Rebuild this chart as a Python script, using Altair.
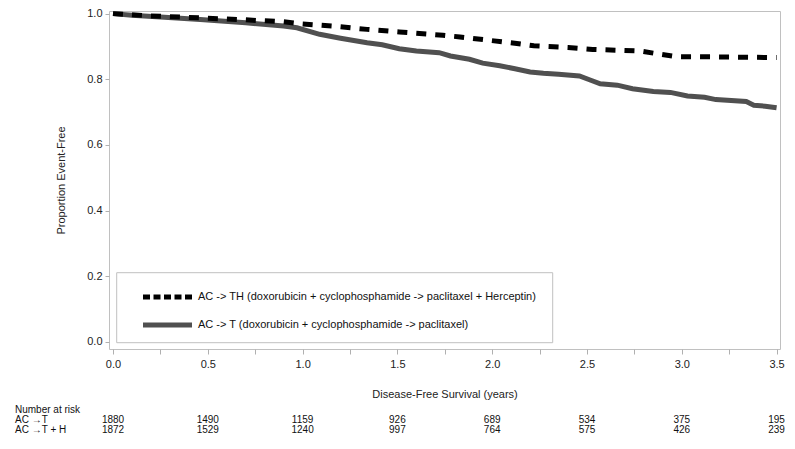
import altair as alt
import pandas as pd

# Kaplan-Meier readings: AC -> T (solid)
t_act = [0.0, 0.1, 0.25, 0.46, 0.7, 0.9, 0.97, 1.09, 1.2, 1.34, 1.42, 1.51, 1.6, 1.72, 1.78,
         1.88, 1.95, 2.04, 2.12, 2.2, 2.27, 2.35, 2.46, 2.52, 2.57, 2.66, 2.74, 2.85, 2.94,
         3.03, 3.12, 3.18, 3.34, 3.38, 3.44, 3.5]
s_act = [1.0, 0.995, 0.99, 0.982, 0.972, 0.962, 0.957, 0.937, 0.925, 0.911, 0.905, 0.893,
         0.886, 0.881, 0.871, 0.861, 0.849, 0.841, 0.832, 0.822, 0.818, 0.815, 0.810, 0.797,
         0.786, 0.782, 0.771, 0.763, 0.760, 0.749, 0.745, 0.738, 0.732, 0.721, 0.718, 0.713]

# AC -> TH (dashed)
t_acth = [0.0, 0.2, 0.46, 0.7, 0.9, 0.99, 1.16, 1.34, 1.51, 1.74, 1.83, 2.01, 2.13, 2.22,
          2.4, 2.53, 2.78, 2.89, 2.97, 3.2, 3.5]
s_acth = [1.0, 0.993, 0.987, 0.981, 0.975, 0.969, 0.962, 0.952, 0.944, 0.934, 0.929, 0.917,
          0.909, 0.902, 0.897, 0.891, 0.886, 0.876, 0.869, 0.868, 0.866]

risk_times = [0.0, 0.5, 1.0, 1.5, 2.0, 2.5, 3.0, 3.5]
risk_act = [1880, 1490, 1159, 926, 689, 534, 375, 195]
risk_acth = [1872, 1529, 1240, 997, 764, 575, 426, 239]

x_ticks = [0.0, 0.25, 0.5, 0.75, 1.0, 1.25, 1.5, 1.75, 2.0, 2.25, 2.5, 2.75, 3.0, 3.25, 3.5]
y_ticks = [0.0, 0.2, 0.4, 0.6, 0.8, 1.0]

legend_labels = [
    "AC -> TH (doxorubicin + cyclophosphamide -> paclitaxel + Herceptin)",
    "AC -> T (doxorubicin + cyclophosphamide -> paclitaxel)",
]
risk_rows = ["Number at risk", "AC \u2192T", "AC \u2192T + H"]

FONT = "Liberation Sans"
W, H = 671, 338
xs = alt.Scale(domain=[-0.0211, 3.518], nice=False, zero=False)
ys = alt.Scale(domain=[-0.022, 1.008], nice=False, zero=False)

x_axis = alt.Axis(
    title="Disease-Free Survival (years)", values=x_ticks,
    labelExpr="datum.value % 0.5 == 0 ? format(datum.value, '.1f') : ''",
    domain=False, grid=False, tickColor="#b0b0b0", tickSize=5,
    labelPadding=4, titlePadding=19)
y_axis = alt.Axis(
    title="Proportion Event-Free", values=y_ticks, format=".1f",
    domain=False, grid=False, tickColor="#b0b0b0", tickSize=4,
    labelPadding=3, titlePadding=20)

X = alt.X("t:Q", scale=xs, axis=x_axis)
Y = alt.Y("s:Q", scale=ys, axis=y_axis)

df_act = pd.DataFrame({"t": t_act, "s": s_act})
df_acth = pd.DataFrame({"t": t_acth, "s": s_acth})

solid = alt.Chart(df_act).mark_line(color="#505050", strokeWidth=5, interpolate="linear").encode(
    x=X, y=Y)
dashed = alt.Chart(df_acth).mark_line(color="#000000", strokeWidth=5, strokeDash=[10, 9],
                                      interpolate="linear").encode(x=X, y=Y)

df_leg = pd.DataFrame({"label": legend_labels})
legend_box = alt.Chart(df_leg.head(1)).mark_rect(fill="white", stroke="#c0c0c0", strokeWidth=1).encode(
    x=alt.value(7.7), x2=alt.value(443.7), y=alt.value(261.7), y2=alt.value(331.7))
leg_dash = alt.Chart(df_leg.head(1)).mark_rule(color="black", strokeWidth=5, strokeDash=[7, 3.5]).encode(
    x=alt.value(34), x2=alt.value(83), y=alt.value(286))
leg_solid = alt.Chart(df_leg.head(1)).mark_rule(color="#505050", strokeWidth=5).encode(
    x=alt.value(34), x2=alt.value(83), y=alt.value(314))
leg_t1 = alt.Chart(df_leg.iloc[[0]]).mark_text(align="left", baseline="middle", font=FONT,
                                                fontSize=11, color="#111").encode(
    x=alt.value(89), y=alt.value(286), text="label:N")
leg_t2 = alt.Chart(df_leg.iloc[[1]]).mark_text(align="left", baseline="middle", font=FONT,
                                                fontSize=11, color="#111").encode(
    x=alt.value(89), y=alt.value(314), text="label:N")

row_y = [399, 409, 419]
df_r1 = pd.DataFrame({"t": risk_times, "n": risk_act})
df_r2 = pd.DataFrame({"t": risk_times, "n": risk_acth})
r1 = alt.Chart(df_r1).mark_text(font=FONT, fontSize=10, color="#111", baseline="middle").encode(
    x=X, y=alt.value(row_y[1]), text="n:Q")
r2 = alt.Chart(df_r2).mark_text(font=FONT, fontSize=10, color="#111", baseline="middle").encode(
    x=X, y=alt.value(row_y[2]), text="n:Q")

df_rows = pd.DataFrame({"label": risk_rows})
row_layers = []
for i, yy in enumerate(row_y):
    row_layers.append(alt.Chart(df_rows.iloc[[i]]).mark_text(
        align="left", baseline="middle", font=FONT, fontSize=10, color="#111").encode(
        x=alt.value(-94), y=alt.value(yy), text="label:N"))

chart = alt.layer(solid, dashed, legend_box, leg_dash, leg_solid, leg_t1, leg_t2, r1, r2,
                  *row_layers).properties(
    width=W, height=H,
    autosize=alt.AutoSizeParams(type="none"),
    padding={"left": 101, "top": 3, "right": 7, "bottom": 92},
).configure_view(stroke="#c0c0c0", strokeWidth=1).configure_axis(
    labelFont=FONT, titleFont=FONT, labelFontSize=11, titleFontSize=11,
    labelColor="#222", titleColor="#222", titleFontWeight="normal",
)

chart.save("out.html", embed_options={"renderer": "svg", "actions": False})
